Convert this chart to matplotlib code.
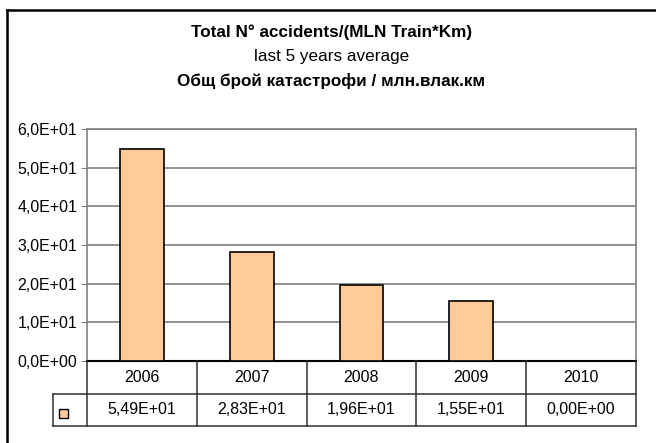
import numpy as np
import matplotlib
matplotlib.use("Agg")
import matplotlib.pyplot as plt
from matplotlib.ticker import FuncFormatter
from matplotlib.patches import Rectangle
from matplotlib.lines import Line2D

plt.rcParams['font.family'] = ['Liberation Sans', 'DejaVu Sans']

# data
years = ["2006", "2007", "2008", "2009", "2010"]
values = [54.9, 28.3, 19.6, 15.5, 0.0]
title_lines = ["Total N° accidents/(MLN Train*Km)", "last 5 years average",
               "Общ брой катастрофи / млн.влак.км"]

W, H = 656, 443
fig = plt.figure(figsize=(W / 100, H / 100), dpi=100)

def fx(px):
    return px / W

def fy(py):
    return 1 - py / H

# plot area in pixels
left, right, top, bottom = 87, 636, 129, 361
ax = fig.add_axes([fx(left), fy(bottom), fx(right - left), (bottom - top) / H])

x = np.arange(len(years))
ax.bar(x, values, width=0.4, color="#FFCC99", edgecolor="black", linewidth=1.2, zorder=3)
ax.set_xlim(-0.5, len(years) - 0.5)
ax.set_ylim(0, 60)
ax.set_yticks(np.arange(0, 61, 10))
ax.yaxis.set_major_formatter(FuncFormatter(lambda v, p: f"{v:.1E}".replace(".", ",")))
ax.tick_params(axis="y", labelsize=11.5, length=4, color="#808080", pad=3)
ax.set_xticks([])
ax.grid(axis="y", color="#808080", linewidth=1.2, zorder=0)
for s in ["top", "right", "left"]:
    ax.spines[s].set_color("#808080")
    ax.spines[s].set_linewidth(1.2)
ax.spines["bottom"].set_color("black")
ax.spines["bottom"].set_linewidth(1.5)

# data table below the axis
row1_b, row2_b = 394, 426
key_left = 53
colw = (right - left) / len(years)
lc = "#303030"
def hline(x0, x1, y):
    fig.add_artist(Line2D([fx(x0), fx(x1)], [fy(y), fy(y)], color=lc, linewidth=1.1))
def vline(xp, y0, y1):
    fig.add_artist(Line2D([fx(xp), fx(xp)], [fy(y0), fy(y1)], color=lc, linewidth=1.1))

hline(key_left, right, row1_b)
hline(key_left, right, row2_b)
vline(key_left, row1_b, row2_b)
for i in range(len(years) + 1):
    vline(left + i * colw, bottom, row2_b)
for i, (yr, v) in enumerate(zip(years, values)):
    cx = left + (i + 0.5) * colw
    fig.text(fx(cx), fy((bottom + row1_b) / 2), yr, ha="center", va="center", fontsize=11.5)
    fig.text(fx(cx), fy((row1_b + row2_b) / 2), f"{v:.2E}".replace(".", ","),
             ha="center", va="center", fontsize=11.5)
fig.add_artist(Rectangle((fx(59), fy(418)), fx(9), 9 / H, facecolor="#FFCC99",
                         edgecolor="black", linewidth=1.0))

# titles
fig.text(0.505, fy(32), title_lines[0], ha="center", va="center", fontsize=12.3, fontweight="bold")
fig.text(0.505, fy(56), title_lines[1], ha="center", va="center", fontsize=12.3)
fig.text(0.505, fy(81), title_lines[2], ha="center", va="center", fontsize=12.3, fontweight="bold")

# outer chart frame
fig.add_artist(Line2D([fx(7), fx(7)], [fy(10), 0], color="black", linewidth=1.8))
fig.add_artist(Line2D([fx(7), 1], [fy(10), fy(10)], color="black", linewidth=1.8))

fig.savefig("out.png", dpi=100)
